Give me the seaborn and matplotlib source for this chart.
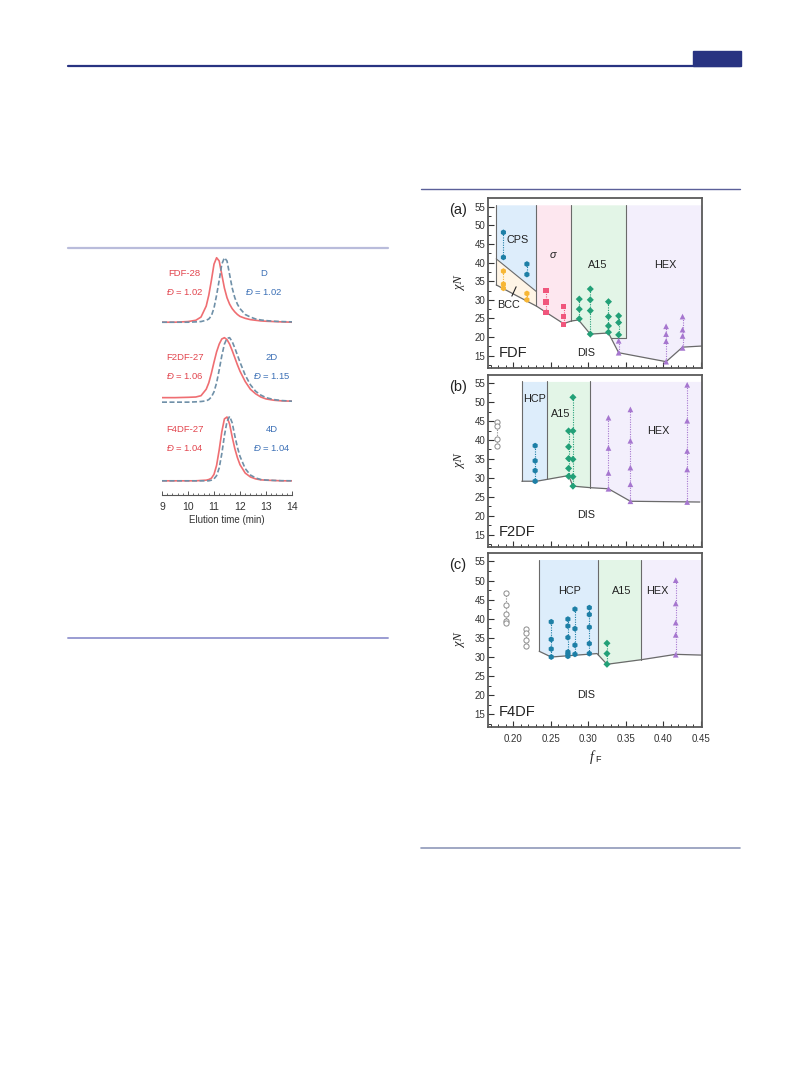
import numpy as np
import matplotlib
matplotlib.use("Agg")
import matplotlib.pyplot as plt
import seaborn as sns
from matplotlib.lines import Line2D
from matplotlib.patches import Rectangle
from matplotlib.ticker import MultipleLocator

W, H = 809, 1067

# ---------------- GPC traces (normalised intensity vs elution time) ----------------
ELUTION_TIME = [9.0, 9.5, 10.0, 10.3, 10.5, 10.7, 10.8, 10.9, 11.0, 11.1, 11.2, 11.3, 11.4,
                11.5, 11.6, 11.7, 11.8, 11.9, 12.0, 12.2, 12.4, 12.6, 12.8, 13.0, 13.3, 13.6, 14.0]
FDF_28 = [0, 0, 0.01, 0.03, 0.08, 0.25, 0.42, 0.65, 0.9, 1.0, 0.95, 0.74, 0.53,
          0.38, 0.28, 0.21, 0.16, 0.12, 0.09, 0.06, 0.04, 0.03, 0.02, 0.015, 0.01, 0.005, 0]
D_1 = [0, 0, 0, 0.005, 0.01, 0.03, 0.05, 0.1, 0.22, 0.42, 0.65, 0.9, 1.0,
       0.95, 0.74, 0.53, 0.38, 0.28, 0.21, 0.12, 0.08, 0.05, 0.035, 0.025, 0.015, 0.01, 0.005]
F2DF_27 = [0.07, 0.07, 0.075, 0.08, 0.1, 0.2, 0.3, 0.45, 0.62, 0.78, 0.9, 0.98, 1.0,
           0.97, 0.9, 0.8, 0.69, 0.58, 0.48, 0.32, 0.2, 0.13, 0.08, 0.05, 0.03, 0.02, 0.015]
D_2 = [0, 0, 0, 0.005, 0.01, 0.02, 0.04, 0.08, 0.16, 0.3, 0.5, 0.72, 0.9,
       0.99, 1.0, 0.94, 0.84, 0.73, 0.62, 0.42, 0.27, 0.17, 0.11, 0.07, 0.04, 0.025, 0.015]
F4DF_27 = [0, 0, 0, 0, 0.005, 0.01, 0.02, 0.04, 0.1, 0.24, 0.48, 0.76, 0.96,
           0.99, 0.88, 0.68, 0.5, 0.36, 0.25, 0.12, 0.06, 0.03, 0.015, 0.01, 0.005, 0, 0]
D_4 = [0, 0, 0, 0, 0, 0, 0, 0.01, 0.03, 0.08, 0.2, 0.42, 0.7,
       0.92, 1.0, 0.9, 0.7, 0.52, 0.38, 0.19, 0.09, 0.045, 0.02, 0.012, 0.006, 0.002, 0]
GPC_OFFSETS = [2.68, 1.44, 0.22]
GPC_NAMES = [("FDF-28", "1.02", "D", "1.02"),
             ("F2DF-27", "1.06", "2D", "1.15"),
             ("F4DF-27", "1.04", "4D", "1.04")]

# ---------------- phase diagrams ----------------
# (a) FDF
A_ODT_X = [0.177, 0.2308, 0.267, 0.277, 0.287, 0.3027, 0.327, 0.3406, 0.404, 0.426, 0.452]
A_ODT_Y = [34.0, 28.3, 23.6, 24.3, 24.6, 20.8, 21.1, 15.8, 13.4, 17.3, 17.6]
A_BCC_TOP_X = [0.177, 0.2308]
A_BCC_TOP_Y = [41.0, 32.2]
A_POINTS = [
    ("CPS", 0.1866, [48.1, 41.4]),
    ("BCC", 0.1866, [37.7, 34.2, 33.1]),
    ("CPS", 0.218, [39.6, 36.8]),
    ("BCC", 0.218, [31.7, 30.0]),
    ("SIG", 0.2434, [32.5, 29.4, 26.6]),
    ("SIG", 0.267, [28.2, 25.5, 23.4]),
    ("A15", 0.288, [30.2, 27.5, 24.9]),
    ("A15", 0.3027, [32.9, 30.0, 27.1, 20.8]),
    ("A15", 0.327, [29.5, 25.5, 23.0, 21.3]),
    ("A15", 0.3406, [25.7, 23.9, 20.6]),
    ("HEX", 0.3406, [19.0, 15.8]),
    ("HEX", 0.404, [22.9, 20.8, 18.9, 13.4]),
    ("HEX", 0.426, [25.5, 22.0, 20.3, 17.1]),
]

# (b) F2DF
B_ODT_X = [0.2112, 0.231, 0.2737, 0.2795, 0.3027, 0.327, 0.3563, 0.449]
B_ODT_Y = [29.1, 29.1, 30.6, 27.8, 27.4, 27.1, 23.8, 23.6]
B_POINTS = [
    ("DIS", 0.1786, [44.7, 43.8, 40.3, 38.4]),
    ("HCP", 0.229, [38.5, 34.5, 31.9, 29.1]),
    ("A15", 0.2737, [42.4, 38.2, 35.1, 32.5, 30.4]),
    ("A15", 0.2795, [51.3, 42.4, 34.9, 30.3, 27.8]),
    ("HEX", 0.327, [45.9, 37.9, 31.3, 27.1]),
    ("HEX", 0.3563, [48.1, 39.8, 32.7, 28.3, 23.8]),
    ("HEX", 0.4322, [54.6, 45.1, 37.1, 32.2, 23.6]),
]

# (c) F4DF
C_ODT_X = [0.2344, 0.2505, 0.3117, 0.325, 0.371, 0.4169, 0.452]
C_ODT_Y = [31.5, 30.0, 30.9, 28.1, 29.3, 30.7, 30.5]
C_POINTS = [
    ("DIS", 0.1898, [46.8, 43.5, 41.2, 39.4, 38.8]),
    ("DIS", 0.2174, [37.3, 36.4, 34.4, 32.9]),
    ("HCP", 0.2505, [39.2, 34.6, 32.1, 30.0]),
    ("HCP", 0.2728, [39.9, 38.1, 35.1, 31.3, 30.7, 30.2]),
    ("HCP", 0.2822, [42.5, 37.4, 33.1, 30.7]),
    ("HCP", 0.3014, [42.9, 41.1, 37.8, 33.5, 30.9]),
    ("A15", 0.325, [33.6, 30.9, 28.1]),
    ("HEX", 0.4169, [50.1, 44.0, 39.0, 35.8, 30.6]),
]

TOP = 55.5
FILL = {"CPS": "#ddedfb", "HCP": "#ddedfb", "BCC": "#fff5e6", "SIG": "#fde7ef",
        "A15": "#e3f5e7", "HEX": "#f3effc"}
MARK = {"CPS": ("h", "#1d7fa6", 18), "HCP": ("h", "#1d7fa6", 18), "BCC": ("h", "#f7b634", 18),
        "SIG": ("s", "#f0567c", 14), "A15": ("D", "#22a077", 13), "HEX": ("^", "#a676cf", 17),
        "DIS": ("o", "#8c8c8c", 14)}

RED_TXT, RED_LINE = "#e2464f", "#ef6e72"
BLUE_TXT, BLUE_DASH = "#3c70b6", "#6f90a8"
EDGE = "#6a6a6a"

sns.set_style("ticks")
plt.rcParams["font.family"] = ["Liberation Sans", "DejaVu Sans"]
plt.rcParams["mathtext.fontset"] = "custom"
plt.rcParams["mathtext.it"] = "Liberation Sans:italic"
plt.rcParams["mathtext.rm"] = "Liberation Sans"

fig = plt.figure(figsize=(W / 100, H / 100), dpi=100)


def rect(x0, y0, x1, y1):
    return [x0 / W, 1 - y1 / H, (x1 - x0) / W, (y1 - y0) / H]


def hline(x0, x1, y, color, lw):
    fig.add_artist(Line2D([x0 / W, x1 / W], [1 - y / H, 1 - y / H], color=color, lw=lw))


# page furniture
hline(68, 740, 66, "#283381", 1.6)
fig.add_artist(Rectangle((693 / W, 1 - 66 / H), 48 / W, 15 / H, color="#283381",
                         transform=fig.transFigure))
hline(68, 388, 248, "#b9bcdb", 1.6)
hline(68, 388, 638, "#9a9cd2", 1.4)
hline(421, 740, 189, "#5b6099", 1.0)
hline(421, 740, 848, "#8f98b9", 1.2)

# ---------------- GPC panel ----------------
gpc = fig.add_axes(rect(162, 250, 292, 495))
traces = [(FDF_28, D_1), (F2DF_27, D_2), (F4DF_27, D_4)]
t = np.array(ELUTION_TIME)
for k, (red, blue) in enumerate(traces):
    off = GPC_OFFSETS[k]
    sns.lineplot(x=t, y=np.array(red) + off, ax=gpc, color=RED_LINE, lw=1.2)
    sns.lineplot(x=t, y=np.array(blue) + off, ax=gpc, color=BLUE_DASH, lw=1.2,
                 linestyle=(0, (3, 1.5)))
    name_r, disp_r, name_b, disp_b = GPC_NAMES[k]
    ytop = off + [0.76, 0.69, 0.80][k]
    gpc.text(9.87, ytop, name_r, color=RED_TXT, fontsize=6.8, ha="center", va="center")
    gpc.text(9.87, ytop - 0.29, "$\\mathit{Đ}$ = " + disp_r, color=RED_TXT, fontsize=6.8,
             ha="center", va="center")
    xb = 12.92 if k == 0 else 13.23
    gpc.text(xb, ytop, name_b, color=BLUE_TXT, fontsize=6.8, ha="center", va="center")
    gpc.text(xb, ytop - 0.29, "$\\mathit{Đ}$ = " + disp_b, color=BLUE_TXT, fontsize=6.8,
             ha="center", va="center")
gpc.set_xlim(9, 14)
gpc.set_ylim(0, 3.8)
for s in ["top", "left", "right"]:
    gpc.spines[s].set_visible(False)
gpc.spines["bottom"].set_color("#555555")
gpc.spines["bottom"].set_linewidth(0.8)
gpc.set_yticks([])
gpc.xaxis.set_major_locator(MultipleLocator(1))
gpc.xaxis.set_minor_locator(MultipleLocator(0.2))
gpc.tick_params(axis="x", which="both", direction="in", color="#555555", labelsize=7.5,
                pad=5, labelcolor="#333333")
gpc.tick_params(axis="x", which="major", length=3, width=0.7)
gpc.tick_params(axis="x", which="minor", length=1.5, width=0.6)
gpc.set_xlabel("Elution time (min)", fontsize=7, color="#333333", labelpad=2)
gpc.set_ylabel("")


# ---------------- phase diagram panels ----------------
def shade(ax, x0, x1, odt_x, odt_y, color, floor=None, top=TOP):
    xs = np.linspace(x0, x1, 400)
    lo = np.interp(xs, odt_x, odt_y)
    if floor is not None:
        lo = np.maximum(lo, floor)
    ax.fill_between(xs, lo, top, color=color, lw=0, zorder=0)


def vbound(ax, x, odt_x, odt_y, floor=None):
    lo = float(np.interp(x, odt_x, odt_y))
    if floor is not None:
        lo = max(lo, floor)
    ax.plot([x, x], [lo, TOP], color=EDGE, lw=0.8, zorder=1)


def draw_points(ax, points):
    for phase, x, ys in points:
        marker, color, size = MARK[phase]
        xs = [x] * len(ys)
        ax.plot(xs, ys, ls=(0, (1, 1.2)), color=color, lw=0.8, zorder=2)
        if phase == "DIS":
            sns.scatterplot(x=xs, y=ys, ax=ax, marker=marker, s=size, facecolor="white",
                            edgecolor=color, linewidth=0.7, zorder=3)
        else:
            sns.scatterplot(x=xs, y=ys, ax=ax, marker=marker, s=size, color=color,
                            edgecolor="none", zorder=3)


def frame(ax, label, name, show_x):
    ax.set_xlim(0.166, 0.452)
    ax.set_ylim(11.7, 57.2)
    for s in ax.spines.values():
        s.set_color("#5a5a5a")
        s.set_linewidth(1.3)
    ax.set_yticks(np.arange(15, 56, 5))
    ax.yaxis.set_minor_locator(MultipleLocator(2.5))
    ax.xaxis.set_major_locator(MultipleLocator(0.05))
    ax.xaxis.set_minor_locator(MultipleLocator(0.01))
    ax.tick_params(which="both", direction="in", color="#333333", labelsize=7,
                   labelcolor="#333333", pad=2)
    ax.tick_params(which="major", length=4, width=0.8)
    ax.tick_params(which="minor", length=2, width=0.7)
    ax.tick_params(axis="x", labelbottom=show_x)
    if show_x:
        ax.set_xticks(np.arange(0.20, 0.46, 0.05))
        ax.set_xticklabels([f"{v:.2f}" for v in np.arange(0.20, 0.46, 0.05)])
        ax.tick_params(axis="x", pad=5)
    ax.set_xlabel("")
    ax.set_ylabel("")
    ax.text(-0.14, 0.93, label, transform=ax.transAxes, fontsize=10.5, ha="center",
            va="center", color="#222222")
    ax.text(-0.13, 0.5, "χN", transform=ax.transAxes, rotation=90, fontsize=9,
            family=["Liberation Serif", "DejaVu Serif"], style="italic", ha="center",
            va="center", color="#222222")
    ax.text(0.181, 15.7, name, fontsize=10.5, ha="left", va="center", color="#222222")


def label(ax, x, y, s, **kw):
    ax.text(x, y, s, fontsize=7.8, ha="center", va="center", color="#222222", zorder=5, **kw)


# (a)
ax_a = fig.add_axes(rect(488, 198.5, 702, 368))
bx = np.linspace(A_BCC_TOP_X[0], A_BCC_TOP_X[1], 200)
shade(ax_a, 0.177, 0.2308, A_BCC_TOP_X, A_BCC_TOP_Y, FILL["CPS"])
ax_a.fill_between(bx, np.interp(bx, A_ODT_X, A_ODT_Y), np.interp(bx, A_BCC_TOP_X, A_BCC_TOP_Y),
                  color=FILL["BCC"], lw=0, zorder=0)
shade(ax_a, 0.2308, 0.277, A_ODT_X, A_ODT_Y, FILL["SIG"])
shade(ax_a, 0.277, 0.350, A_ODT_X, A_ODT_Y, FILL["A15"], floor=19.7)
shade(ax_a, 0.350, 0.452, A_ODT_X, A_ODT_Y, FILL["HEX"])
hx = np.linspace(0.326, 0.350, 100)
hlo = np.interp(hx, A_ODT_X, A_ODT_Y)
ax_a.fill_between(hx, hlo, 19.7, where=hlo <= 19.7, color=FILL["HEX"], lw=0, zorder=0)
for xb in [0.177, 0.2308, 0.277]:
    vbound(ax_a, xb, A_ODT_X, A_ODT_Y)
vbound(ax_a, 0.350, A_ODT_X, A_ODT_Y, floor=19.7)
ax_a.plot([0.3306, 0.350], [19.7, 19.7], color=EDGE, lw=0.8, zorder=1)
ax_a.plot(A_BCC_TOP_X, A_BCC_TOP_Y, color=EDGE, lw=0.8, zorder=1)
ax_a.plot(A_ODT_X, A_ODT_Y, color=EDGE, lw=0.9, zorder=1)
ax_a.plot([0.1979, 0.2036], [31.0, 33.5], color="#222222", lw=0.8, zorder=5)
draw_points(ax_a, A_POINTS)
label(ax_a, 0.2054, 46.1, "CPS")
label(ax_a, 0.193, 28.7, "BCC")
label(ax_a, 0.2523, 42.0, "σ", style="italic")
label(ax_a, 0.3125, 39.3, "A15")
label(ax_a, 0.403, 39.3, "HEX")
label(ax_a, 0.297, 15.8, "DIS")
frame(ax_a, "(a)", "FDF", False)

# (b)
ax_b = fig.add_axes(rect(488, 375, 702, 547))
shade(ax_b, 0.2112, 0.2455, B_ODT_X, B_ODT_Y, FILL["HCP"])
shade(ax_b, 0.2455, 0.3027, B_ODT_X, B_ODT_Y, FILL["A15"])
shade(ax_b, 0.3027, 0.452, B_ODT_X, B_ODT_Y, FILL["HEX"])
for xb in [0.2112, 0.2455, 0.3027]:
    vbound(ax_b, xb, B_ODT_X, B_ODT_Y)
ax_b.plot(B_ODT_X, B_ODT_Y, color=EDGE, lw=0.9, zorder=1)
draw_points(ax_b, B_POINTS)
label(ax_b, 0.2277, 50.8, "HCP")
label(ax_b, 0.2626, 46.8, "A15")
label(ax_b, 0.394, 42.4, "HEX")
label(ax_b, 0.297, 20.1, "DIS")
frame(ax_b, "(b)", "F2DF", False)

# (c)
ax_c = fig.add_axes(rect(488, 553, 702, 727))
shade(ax_c, 0.2344, 0.313, C_ODT_X, C_ODT_Y, FILL["HCP"])
shade(ax_c, 0.313, 0.371, C_ODT_X, C_ODT_Y, FILL["A15"])
shade(ax_c, 0.371, 0.452, C_ODT_X, C_ODT_Y, FILL["HEX"])
for xb in [0.2344, 0.313, 0.371]:
    vbound(ax_c, xb, C_ODT_X, C_ODT_Y)
ax_c.plot(C_ODT_X, C_ODT_Y, color=EDGE, lw=0.9, zorder=1)
draw_points(ax_c, C_POINTS)
label(ax_c, 0.275, 47.2, "HCP")
label(ax_c, 0.345, 47.2, "A15")
label(ax_c, 0.392, 47.2, "HEX")
label(ax_c, 0.297, 20.1, "DIS")
frame(ax_c, "(c)", "F4DF", True)

fig.text(594 / W, 1 - 757 / H, "f", fontsize=10, style="italic",
         family=["Liberation Serif", "DejaVu Serif"], ha="right", va="center", color="#222222")
fig.text(595 / W, 1 - 760 / H, "F", fontsize=6.5, ha="left", va="center", color="#222222")

fig.savefig("out.png", dpi=100)
